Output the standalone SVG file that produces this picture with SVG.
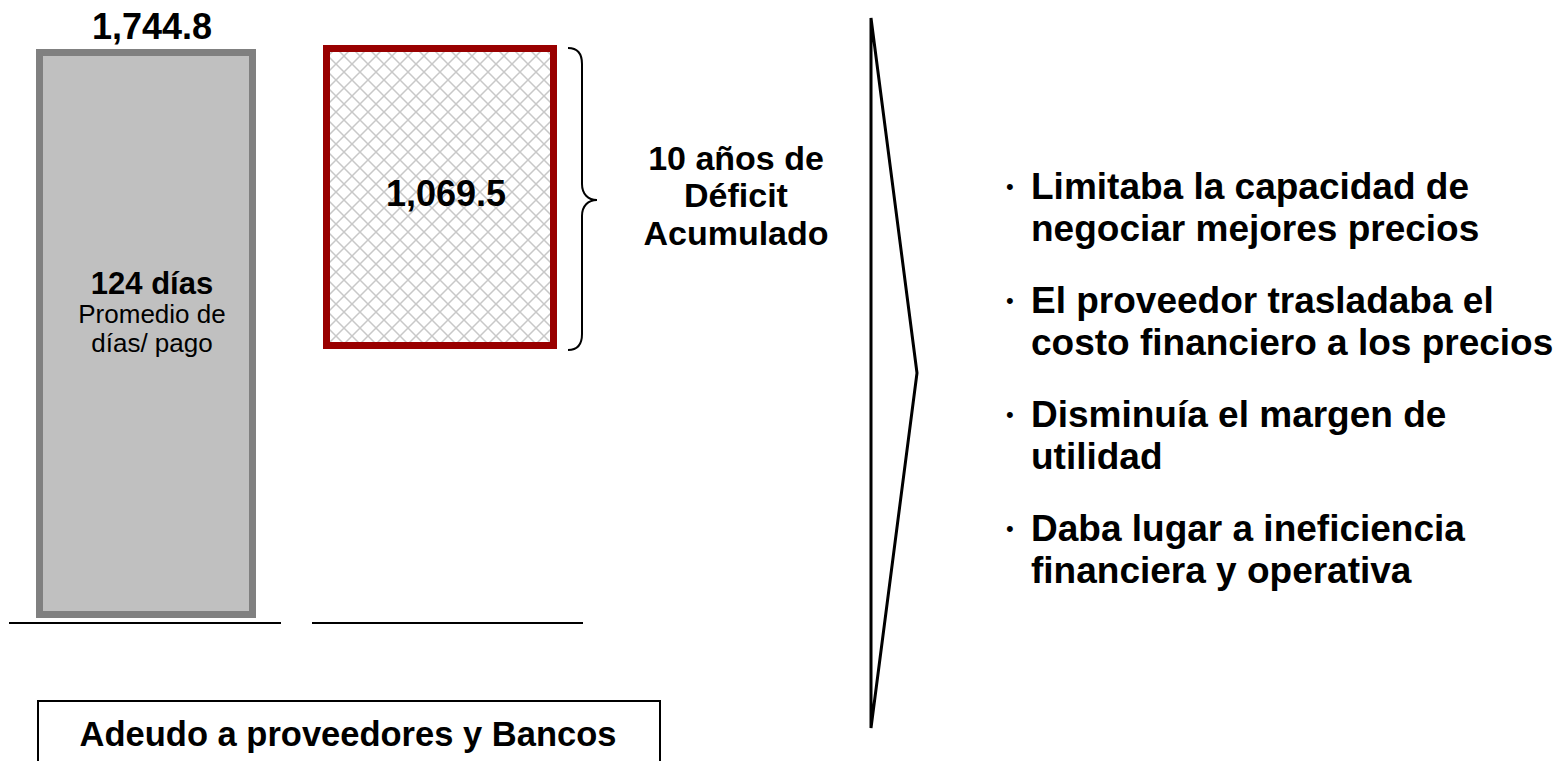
<svg xmlns="http://www.w3.org/2000/svg" width="1557" height="761" viewBox="0 0 1557 761">
<style>
  .b { font-family: "Liberation Sans", Arial, sans-serif; font-weight: bold; fill: #000; }
  .r { font-family: "Liberation Sans", Arial, sans-serif; fill: #000; }
  .line { stroke: #000; stroke-width: 2; fill: none; }
</style>
<defs>
  <pattern id="hatch" width="16" height="16" patternUnits="userSpaceOnUse">
    <rect width="16" height="16" fill="#fff"/>
    <path d="M0,0 L16,16 M16,0 L0,16" stroke="#c8c8c8" stroke-width="1.5"/>
  </pattern>
</defs>
<rect width="1557" height="761" fill="#fff"/>

<g id="bar-total">
  <rect x="39.5" y="52.5" width="213" height="562" fill="#c0c0c0" stroke="#808080" stroke-width="7"/>
  <text class="b" x="152" y="39" font-size="36" text-anchor="middle">1,744.8</text>
  <text class="b" x="152" y="294" font-size="31" text-anchor="middle">124 días</text>
  <text class="r" x="152" y="323" font-size="26" text-anchor="middle">Promedio de</text>
  <text class="r" x="152" y="352" font-size="26" text-anchor="middle">días/ pago</text>
</g>

<g id="bar-deficit">
  <rect x="326.5" y="48.5" width="227" height="297" fill="url(#hatch)" stroke="#990000" stroke-width="7"/>
  <text class="b" x="446" y="206" font-size="36" text-anchor="middle">1,069.5</text>
</g>

<g id="brace">
  <path class="line" d="M568,48 C578,48 582,54 582,64 L582,184 C582,194 588,200 597,200 C588,200 582,206 582,216 L582,334 C582,344 578,350 568,350"/>
  <text class="b" x="736" y="170" font-size="34" text-anchor="middle">10 años de</text>
  <text class="b" x="736" y="207" font-size="34" text-anchor="middle">Déficit</text>
  <text class="b" x="736" y="245" font-size="34" text-anchor="middle">Acumulado</text>
</g>

<g id="baselines">
  <line class="line" x1="9" y1="623" x2="281" y2="623"/>
  <line class="line" x1="312" y1="623" x2="583" y2="623"/>
</g>

<g id="label-box">
  <rect x="38" y="701" width="622" height="80" fill="none" stroke="#000" stroke-width="2"/>
  <text class="b" x="348" y="746" font-size="34.5" text-anchor="middle">Adeudo a proveedores y Bancos</text>
</g>

<g id="connectors">
  <polygon points="871,18 917,373 871,728" fill="none" stroke="#000" stroke-width="3" stroke-linejoin="miter"/>
</g>

<g id="bullets">
  <g class="b" font-size="37">
    <text x="1031" y="199">Limitaba la capacidad de</text>
    <text x="1031" y="241">negociar mejores precios</text>
    <text x="1031" y="313">El proveedor trasladaba el</text>
    <text x="1031" y="355">costo financiero a los precios</text>
    <text x="1031" y="427">Disminuía el margen de</text>
    <text x="1031" y="469">utilidad</text>
    <text x="1031" y="541">Daba lugar a ineficiencia</text>
    <text x="1031" y="583">financiera y operativa</text>
  </g>
  <g class="r" font-size="22">
    <text x="1006" y="194">•</text>
    <text x="1006" y="308">•</text>
    <text x="1006" y="422">•</text>
    <text x="1006" y="536">•</text>
  </g>
</g>
</svg>
